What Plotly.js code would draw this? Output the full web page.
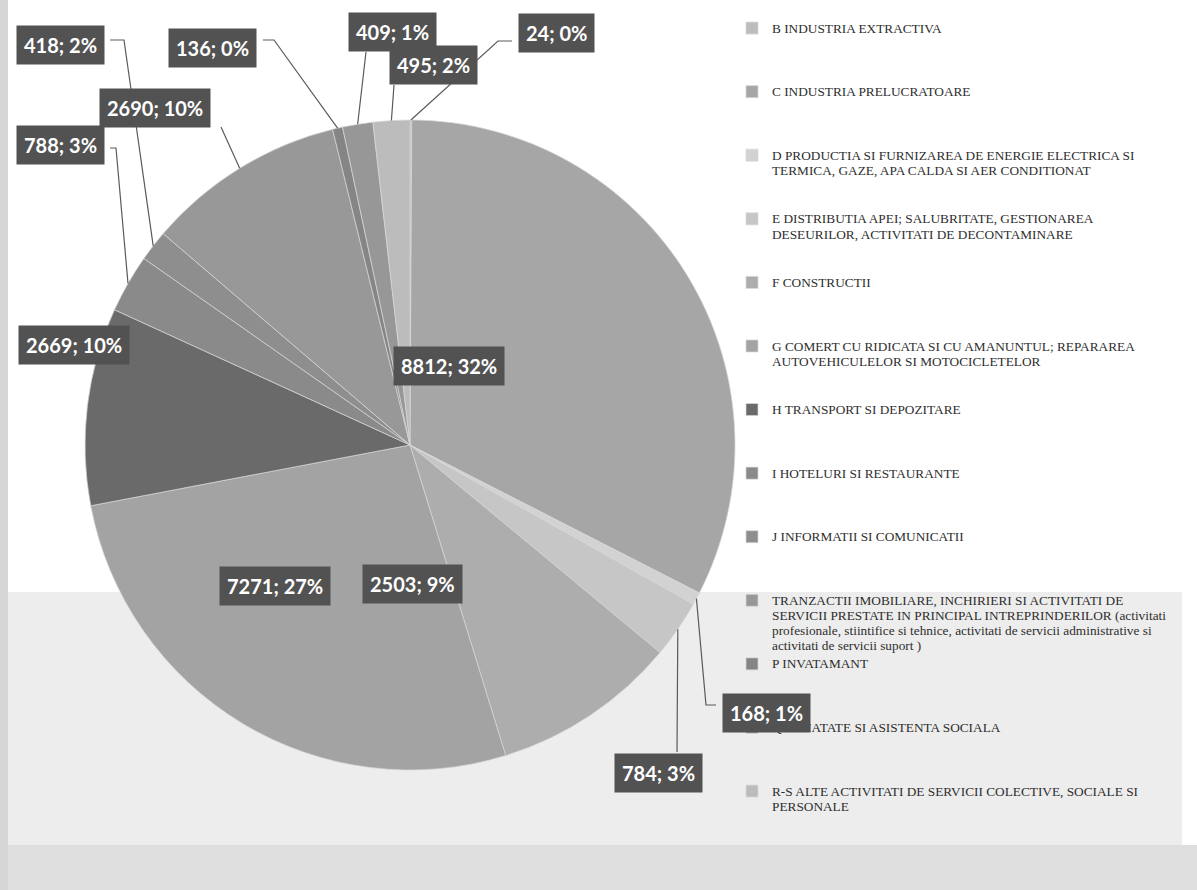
<!DOCTYPE html>
<html>
<head>
<meta charset="utf-8">
<script src="https://cdn.plot.ly/plotly-3.0.1.min.js"></script>
<style>html,body{margin:0;padding:0;background:#fff;}</style>
</head>
<body>
<div id="chart" style="width:1197px;height:890px;"></div>
<script>
// ---------- DATA ----------
const codes = ["B","C","D","E","F","G","H","I","J","K-N","P","Q","R-S"];
const legendLines = [
  ["B INDUSTRIA EXTRACTIVA"],
  ["C INDUSTRIA PRELUCRATOARE"],
  ["D PRODUCTIA SI FURNIZAREA DE ENERGIE ELECTRICA SI","TERMICA, GAZE, APA CALDA SI AER CONDITIONAT"],
  ["E DISTRIBUTIA APEI; SALUBRITATE, GESTIONAREA","DESEURILOR, ACTIVITATI DE DECONTAMINARE"],
  ["F CONSTRUCTII"],
  ["G COMERT CU RIDICATA SI CU AMANUNTUL; REPARAREA","AUTOVEHICULELOR SI MOTOCICLETELOR"],
  ["H TRANSPORT SI DEPOZITARE"],
  ["I HOTELURI SI RESTAURANTE"],
  ["J INFORMATII SI COMUNICATII"],
  ["TRANZACTII IMOBILIARE, INCHIRIERI SI ACTIVITATI DE",
   "SERVICII PRESTATE IN PRINCIPAL INTREPRINDERILOR (activitati",
   "profesionale, stiintifice si tehnice, activitati de servicii administrative si",
   "activitati de servicii suport )"],
  ["P INVATAMANT"],
  ["Q SANATATE SI ASISTENTA SOCIALA"],
  ["R-S ALTE ACTIVITATI DE SERVICII COLECTIVE, SOCIALE SI","PERSONALE"]
];
const values   = [24, 8812, 168, 784, 2503, 7271, 2669, 788, 418, 2690, 136, 409, 495];
const percents = [0, 32, 1, 3, 9, 27, 10, 3, 2, 10, 0, 1, 2];

// ---------- STYLE / LAYOUT ----------
const colors = ["#bdbdbd","#a6a6a6","#d2d2d2","#c6c6c6","#adadad","#a3a3a3",
                "#6a6a6a","#8a8a8a","#8e8e8e","#989898","#858585","#979797","#bcbcbc"];
const W = 1197, H = 890;
const cx = 410, cy = 445, R = 325;           // pie centre / radius (px)
// label box centres (px) and leader elbow points (px, null = no leader)
const labelPos = [[556,33],[449,366],[766,713],[658,773],[412,584],[275,586],
                  [74,345],[60,145],[60,45],[155,108],[212,48],[392,32],[433,65]];
const leaderFrom = [
  [[512,41],[498,41]],
  null,
  [[716,705],[706,705]],
  [[677,752]],
  null, null, null,
  [[110,148],[116,148]],
  [[110,40],[124,40]],
  [[221,127]],
  [[263,40],[274,40]],
  [[366,52]],
  [[394,85]]
];

const px = x => x / W, py = y => 1 - y / H;

const total = values.reduce((a,b)=>a+b,0);
let cum = 0;
const mids = values.map(v => { const m = (cum + v/2) / total * 360; cum += v; return m; });

const shapes = [
  {type:"rect", xref:"paper", yref:"paper", x0:0, x1:px(1182), y0:py(845), y1:py(592),
   fillcolor:"#ededed", line:{width:0}, layer:"below"},
  {type:"rect", xref:"paper", yref:"paper", x0:0, x1:1, y0:0, y1:py(845),
   fillcolor:"#dedede", line:{width:0}, layer:"below"},
  {type:"rect", xref:"paper", yref:"paper", x0:0, x1:px(8), y0:0, y1:1,
   fillcolor:"#d6d6d6", line:{width:0}, layer:"below"}
];
const annotations = [];

values.forEach((v, i) => {
  const a = mids[i] * Math.PI / 180;
  if (leaderFrom[i]) {
    const tip = [cx + R * Math.sin(a), cy - R * Math.cos(a)];
    const pts = leaderFrom[i].concat([tip]);
    const path = pts.map((p, k) => (k ? "L" : "M") + px(p[0]).toFixed(5) + "," + py(p[1]).toFixed(5)).join(" ");
    shapes.push({type:"path", xref:"paper", yref:"paper", path:path,
                 line:{color:"#5a5a5a", width:1.2}, layer:"above"});
  }
  annotations.push({
    xref:"paper", yref:"paper", x:px(labelPos[i][0]), y:py(labelPos[i][1]),
    xanchor:"center", yanchor:"middle", showarrow:false,
    text:"<b>" + v + "; " + percents[i] + "%</b>",
    font:{family:"Lato, 'Open Sans', sans-serif", size:20, color:"#ffffff"},
    bgcolor:"#525252", borderpad:7
  });
});

const NB = "\u00a0";
const legendNames = legendLines.map(lines => {
  const l = lines.map(t => "<span style='font-size:13.3px'>" + t + "</span>");
  while (l.length < 4) l.push(NB);
  return l.join("<br>");
});

const trace = {
  type:"pie",
  labels: legendNames,
  values: values,
  sort:false,
  direction:"clockwise",
  rotation:0,
  textinfo:"none",
  hoverinfo:"value+percent",
  marker:{colors:colors, line:{color:"rgba(215,215,215,0.7)", width:1}},
  domain:{x:[px(cx-R), px(cx+R)], y:[py(cy+R), py(cy-R)]}
};

const layout = {
  width:W, height:H,
  margin:{l:0,r:0,t:0,b:0},
  paper_bgcolor:"#ffffff",
  showlegend:true,
  legend:{x:px(732), y:py(14), xanchor:"left", yanchor:"top",
          font:{family:"'Liberation Serif', 'DejaVu Serif', serif", size:11.65, color:"#2e2e2e"},
          valign:"top", bgcolor:"rgba(0,0,0,0)", itemclick:false},
  shapes:shapes,
  annotations:annotations
};

Plotly.newPlot("chart", [trace], layout, {displayModeBar:false, staticPlot:true});
</script>
</body>
</html>
